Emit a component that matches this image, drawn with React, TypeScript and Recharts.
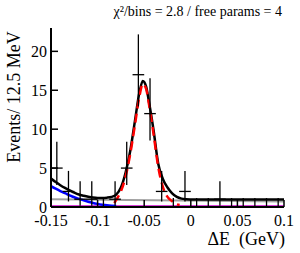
import { ComposedChart, Line, Scatter, ErrorBar, XAxis, YAxis } from 'recharts';

// binned data (12.5 MeV bins)
const binCenters = [
  -0.14375, -0.13125, -0.11875, -0.10625, -0.09375, -0.08125, -0.06875, -0.05625, -0.04375, -0.03125,
  -0.01875, -0.00625, 0.00625, 0.01875, 0.03125, 0.04375, 0.05625, 0.06875, 0.08125, 0.09375,
];
const counts = [5, 2, 1, 1, 0, 1, 5, 17, 12, 2, 0, 2, 0, 0, 1, 0, 0, 0, 0, 0];
const errLow = [2.16, 1.29, 0.83, 0.83, 0, 0.83, 2.16, 4.08, 3.45, 1.29, 0, 1.29, 0, 0, 0.83, 0, 0, 0, 0, 0];
const errHigh = [
  3.38, 2.64, 2.3, 2.3, 1.15, 2.3, 3.38, 5.18, 4.53, 2.64, 1.15, 2.64, 1.15, 1.15, 2.3, 1.15, 1.15, 1.15, 1.15, 1.15,
];
const binHalfWidth = 0.00625;

// total fit (black)
const totalX = [
  -0.15, -0.145, -0.14, -0.135, -0.13, -0.125, -0.12, -0.115, -0.11, -0.105, -0.1, -0.095, -0.09, -0.085, -0.08,
  -0.075, -0.07, -0.065, -0.06, -0.055, -0.0515, -0.048, -0.045, -0.04, -0.035, -0.03, -0.025, -0.02, -0.015, -0.01,
  -0.005, 0, 0.01, 0.02, 0.03, 0.04, 0.05, 0.06, 0.07, 0.08, 0.09, 0.1,
];
const totalY = [
  3.65, 3.2, 2.8, 2.45, 2.15, 1.85, 1.6, 1.45, 1.32, 1.22, 1.17, 1.17, 1.2, 1.3, 1.6, 2.5, 4.4, 7.2, 11.0, 14.8, 16.2,
  15.5, 13.6, 9.9, 5.6, 3.6, 2.5, 1.75, 1.3, 1.08, 1.0, 0.97, 0.95, 0.95, 0.95, 0.95, 0.95, 0.95, 0.95, 0.95, 0.95,
  0.95,
];

// signal (red dashed)
const sigX = [
  -0.082, -0.08, -0.075, -0.07, -0.065, -0.06, -0.055, -0.0515, -0.048, -0.045, -0.04, -0.035, -0.03, -0.025, -0.02,
  -0.016, -0.012,
];
const sigY = [0.5, 0.9, 2.0, 3.9, 6.8, 10.5, 14.3, 15.8, 15.2, 13.3, 9.4, 5.2, 2.6, 1.3, 0.75, 0.4, 0.25];

// peaking background (blue)
const blueX = [-0.15, -0.145, -0.14, -0.135, -0.13, -0.125, -0.12, -0.115, -0.11, -0.105, -0.1, -0.095, -0.09, -0.085, -0.08];
const blueY = [2.67, 2.35, 2.05, 1.78, 1.5, 1.25, 1.05, 0.85, 0.68, 0.52, 0.4, 0.3, 0.22, 0.17, 0.14];

// flat backgrounds (gray, magenta)
const grayX = [-0.15, 0.1];
const grayY = [1.0, 0.7];
const magX = [-0.15, 0.1];
const magY = [0.1, 0.1];

const xTicks = [-0.15, -0.1, -0.05, 0, 0.05, 0.1];
const yTicks = [0, 5, 10, 15, 20];

const toPts = (xs: number[], ys: number[]) => xs.map((x, i) => ({ x, y: ys[i] }));

const points = binCenters.map((x, i) => ({
  x,
  y: counts[i],
  ex: binHalfWidth,
  ey: [errLow[i], errHigh[i]],
}));

const FONT = "'Liberation Serif', 'DejaVu Serif', serif";

const BottomTick = (props: any) => {
  const { x, y, payload } = props;
  return (
    <g>
      <line x1={x} y1={y} x2={x} y2={y - 7} stroke="#000" strokeWidth={1.5} />
      <text x={x} y={y + 19} textAnchor="middle" style={{ fontFamily: FONT, fontSize: 16 }} fill="#000">
        {String(payload.value)}
      </text>
    </g>
  );
};

const TopTick = (props: any) => {
  const { x, y } = props;
  return <line x1={x} y1={y} x2={x} y2={y + 7} stroke="#000" strokeWidth={1.5} />;
};

const LeftTick = (props: any) => {
  const { x, y, payload } = props;
  return (
    <g>
      <line x1={x} y1={y} x2={x + 7} y2={y} stroke="#000" strokeWidth={1.5} />
      <text x={x - 4} y={y} dy="0.35em" textAnchor="end" style={{ fontFamily: FONT, fontSize: 16 }} fill="#000">
        {String(payload.value)}
      </text>
    </g>
  );
};

const RightTick = (props: any) => {
  const { x, y } = props;
  return <line x1={x} y1={y} x2={x - 7} y2={y} stroke="#000" strokeWidth={1.5} />;
};

export default function App() {
  return (
    <div style={{ position: 'absolute', left: 0, top: 0, width: 300, height: 253, background: '#fff' }}>
      <ComposedChart width={300} height={253} margin={{ top: 28, right: 16, bottom: 0, left: 0 }}>
        <XAxis
          dataKey="x"
          type="number"
          domain={[-0.15, 0.1]}
          ticks={xTicks}
          allowDataOverflow
          height={46}
          tickSize={0}
          tickMargin={0}
          tickLine={false}
          tick={BottomTick}
          axisLine={{ stroke: '#000', strokeWidth: 2 }}
        />
        <XAxis
          xAxisId="t"
          orientation="top"
          dataKey="x"
          type="number"
          domain={[-0.15, 0.1]}
          ticks={xTicks}
          allowDataOverflow
          height={0}
          tickSize={0}
          tickMargin={0}
          tickLine={false}
          tick={TopTick}
          axisLine={{ stroke: '#000', strokeWidth: 2 }}
        />
        <YAxis
          dataKey="y"
          type="number"
          domain={[0, 23]}
          ticks={yTicks}
          allowDataOverflow
          width={51}
          tickSize={0}
          tickMargin={0}
          tickLine={false}
          tick={LeftTick}
          axisLine={{ stroke: '#000', strokeWidth: 2 }}
        />
        <YAxis
          yAxisId="r"
          orientation="right"
          type="number"
          domain={[0, 23]}
          ticks={yTicks}
          allowDataOverflow
          width={0}
          tickSize={0}
          tickMargin={0}
          tickLine={false}
          tick={RightTick}
          axisLine={{ stroke: '#000', strokeWidth: 2 }}
        />
        <Line data={toPts(grayX, grayY)} dataKey="y" type="linear" dot={false} stroke="#a0a0a0" strokeWidth={2} isAnimationActive={false} />
        <Line data={toPts(magX, magY)} dataKey="y" type="linear" dot={false} stroke="#cc00cc" strokeWidth={2} isAnimationActive={false} />
        <Line data={toPts(blueX, blueY)} dataKey="y" type="monotone" dot={false} stroke="#0000ff" strokeWidth={2.5} isAnimationActive={false} />
        <Line data={toPts(totalX, totalY)} dataKey="y" type="monotone" dot={false} stroke="#000" strokeWidth={2.5} isAnimationActive={false} />
        <Line
          data={toPts(sigX, sigY)}
          dataKey="y"
          type="monotone"
          dot={false}
          stroke="#ff0000"
          strokeWidth={2.5}
          strokeDasharray="9 5"
          isAnimationActive={false}
        />
        <Scatter data={points} dataKey="y" shape={() => <g />} isAnimationActive={false}>
          <ErrorBar dataKey="ey" direction="y" width={0} stroke="#000" strokeWidth={1.3} />
          <ErrorBar dataKey="ex" direction="x" width={0} stroke="#000" strokeWidth={1.3} />
        </Scatter>
      </ComposedChart>
      <div
        style={{
          position: 'absolute',
          right: 18,
          top: 4,
          fontFamily: FONT,
          fontSize: 14,
          lineHeight: '16px',
          whiteSpace: 'nowrap',
        }}
      >
        χ²/bins = 2.8 / free params = 4
      </div>
      <div
        style={{
          position: 'absolute',
          left: 14 - 100,
          top: 97 - 10,
          width: 200,
          textAlign: 'center',
          transform: 'rotate(-90deg)',
          fontFamily: FONT,
          fontSize: 18,
          lineHeight: '20px',
          whiteSpace: 'nowrap',
        }}
      >
        Events/ 12.5 MeV
      </div>
      <div
        style={{
          position: 'absolute',
          right: 15,
          top: 229,
          fontFamily: FONT,
          fontSize: 18,
          lineHeight: '20px',
          whiteSpace: 'pre',
        }}
      >
        {'ΔE  (GeV)'}
      </div>
    </div>
  );
}
